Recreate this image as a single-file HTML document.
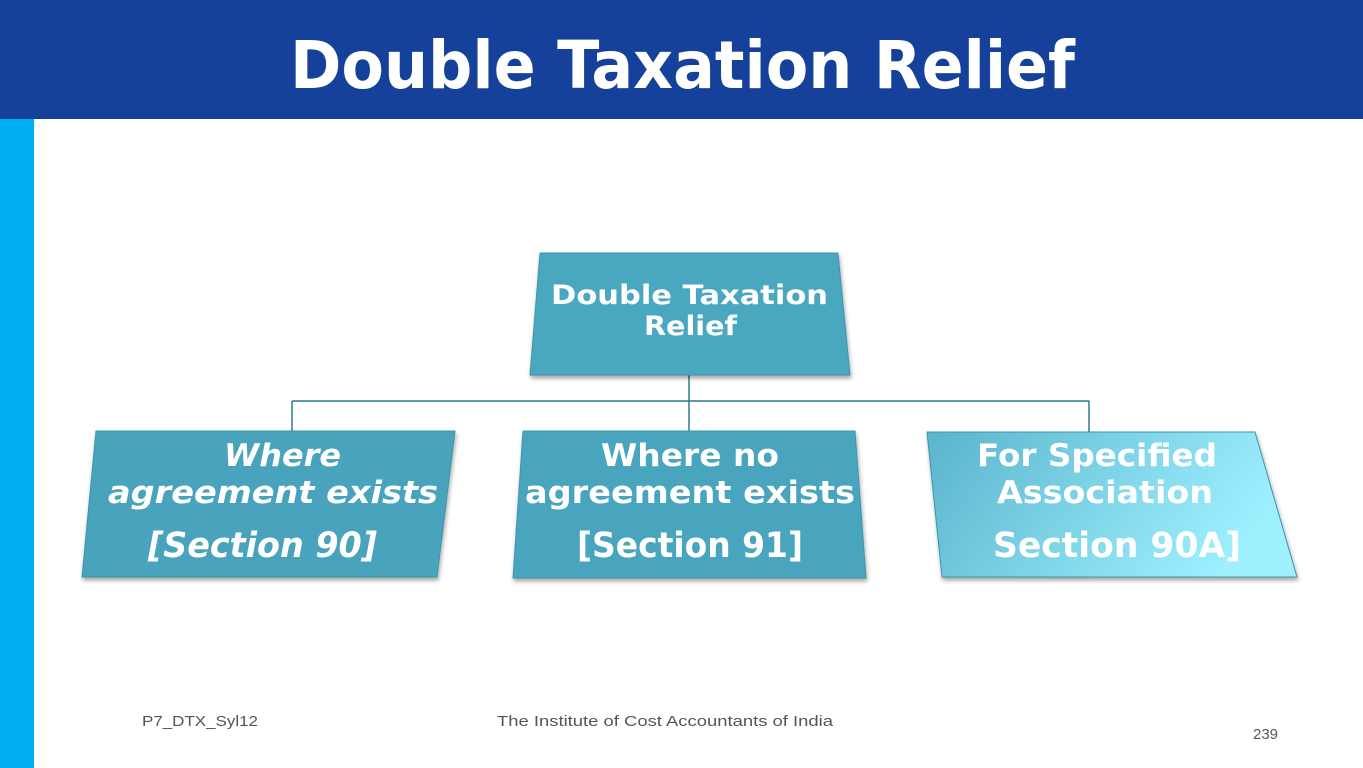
<!DOCTYPE html>
<html><head><style>
html,body{margin:0;padding:0;width:1363px;height:768px;overflow:hidden;background:#fff;font-family:"DejaVu Sans","Liberation Sans",sans-serif}
</style></head><body>
<svg width="1363" height="768" viewBox="0 0 1363 768" xmlns="http://www.w3.org/2000/svg">
<defs>
<linearGradient id="g3" x1="0" y1="0" x2="1" y2="0.3">
<stop offset="0" stop-color="#5ab4cc"/><stop offset="1" stop-color="#9ef0ff"/></linearGradient>
<filter id="sh" x="-5%" y="-5%" width="110%" height="115%"><feDropShadow dx="1" dy="3" stdDeviation="2" flood-color="#000" flood-opacity="0.35"/></filter>
</defs>
<rect x="0" y="0" width="1363" height="119" fill="#15419b"/>
<text x="290" y="88" font-size="66" font-weight="bold" fill="#fff" textLength="785" lengthAdjust="spacingAndGlyphs">Double Taxation Relief</text>
<rect x="0" y="119" width="34" height="649" fill="#00b0f0"/>
<g stroke="#2f7a8c" stroke-width="1.5" fill="none">
<line x1="689" y1="375" x2="689" y2="431"/>
<line x1="292" y1="401" x2="1089" y2="401"/>
<line x1="292" y1="401" x2="292" y2="431"/>
<line x1="1089" y1="401" x2="1089" y2="432"/>
</g>
<g filter="url(#sh)" stroke="#3a95ad" stroke-width="1">
<polygon points="540,253 838,253 850,375 530,375" fill="#4aa8c0"/>
<polygon points="96,431 455,431 437,577 82,577" fill="#4aa3bc"/>
<polygon points="523,431 855,431 866,578 513,578" fill="#4aa5be"/>
<polygon points="927,432 1255,432 1297,577 942,577" fill="url(#g3)"/>
</g>
<g fill="#fff" font-weight="bold" lengthAdjust="spacingAndGlyphs">
<text x="551" y="304" font-size="27" textLength="277" lengthAdjust="spacingAndGlyphs">Double Taxation</text>
<text x="644" y="335" font-size="27" textLength="93" lengthAdjust="spacingAndGlyphs">Relief</text>
<g font-style="italic" font-size="31">
<text x="224" y="466" textLength="117" lengthAdjust="spacingAndGlyphs">Where</text>
<text x="108" y="503" textLength="330" lengthAdjust="spacingAndGlyphs">agreement exists</text>
<text x="148" y="557" font-size="35" textLength="229" lengthAdjust="spacingAndGlyphs">[Section 90]</text>
</g>
<text x="601" y="466" font-size="31" textLength="178" lengthAdjust="spacingAndGlyphs">Where no</text>
<text x="525" y="503" font-size="31" textLength="330" lengthAdjust="spacingAndGlyphs">agreement exists</text>
<text x="577" y="557" font-size="35" textLength="226" lengthAdjust="spacingAndGlyphs">[Section 91]</text>
<text x="977" y="466" font-size="31" textLength="240" lengthAdjust="spacingAndGlyphs">For Specified</text>
<text x="997" y="503" font-size="31" textLength="216" lengthAdjust="spacingAndGlyphs">Association</text>
<text x="993" y="557" font-size="35" textLength="248" lengthAdjust="spacingAndGlyphs">Section 90A]</text>
</g>
<g fill="#555" font-size="15" font-family="Liberation Sans, sans-serif">
<text x="142" y="726" textLength="116" lengthAdjust="spacingAndGlyphs">P7_DTX_Syl12</text>
<text x="497" y="726" textLength="336" lengthAdjust="spacingAndGlyphs">The Institute of Cost Accountants of India</text>
<text x="1253" y="739">239</text>
</g>
</svg>
</body></html>
